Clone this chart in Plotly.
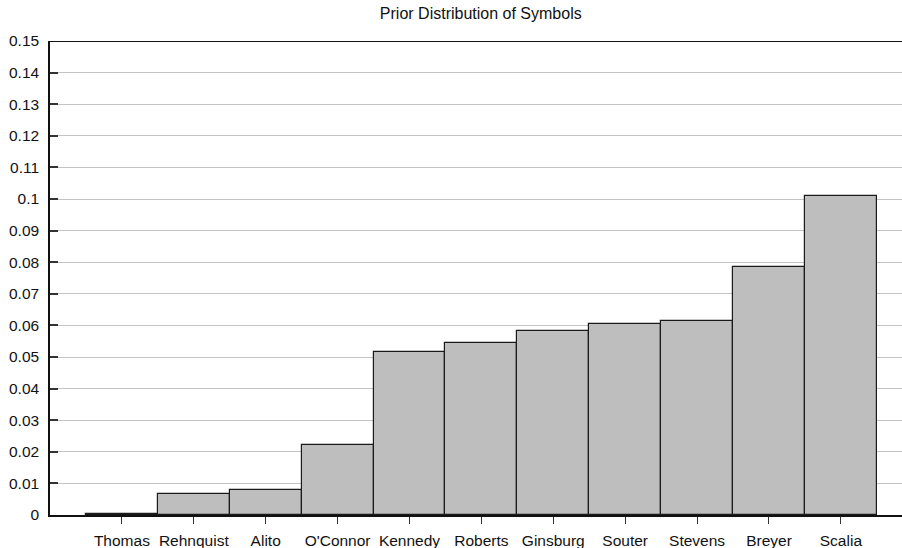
import plotly.graph_objects as go

justices = ["Thomas", "Rehnquist", "Alito", "O'Connor", "Kennedy", "Roberts",
            "Ginsburg", "Souter", "Stevens", "Breyer", "Scalia"]
prior = [0.0003, 0.0066, 0.0079, 0.0222, 0.0515, 0.0544,
         0.0583, 0.0605, 0.0613, 0.0786, 0.1011]
y_ticks = [round(i * 0.01, 2) for i in range(16)]
y_tick_text = ["0", "0.01", "0.02", "0.03", "0.04", "0.05", "0.06", "0.07",
               "0.08", "0.09", "0.1", "0.11", "0.12", "0.13", "0.14", "0.15"]

FONT = "Liberation Sans, Arial, sans-serif"

fig = go.Figure(go.Bar(
    x=list(range(len(justices))),
    y=prior,
    width=1.0,
    marker=dict(color="#bebebe", line=dict(color="#1a1a1a", width=1.2)),
    hoverinfo="x+y",
))

fig.update_layout(
    width=902, height=548,
    margin=dict(l=50, r=0, t=41, b=33, autoexpand=False),
    paper_bgcolor="white", plot_bgcolor="white",
    showlegend=False,
    title=dict(text="Prior Distribution of Symbols", x=0.533, xanchor="center",
               y=1 - 13 / 548, yanchor="middle", yref="container",
               font=dict(family=FONT, size=16, color="#111111")),
    font=dict(family=FONT, size=15.5, color="#111111"),
    bargap=0,
)

fig.update_xaxes(
    range=[-1.0, 10.85],
    tickmode="array", tickvals=list(range(len(justices))), ticktext=justices,
    ticks="outside", ticklen=7, tickcolor="#333333", tickwidth=1,
    showgrid=False, zeroline=False, automargin=False,
    showline=True, linecolor="#111111", linewidth=1.5,
    tickfont=dict(family=FONT, size=15.5, color="#111111"),
    ticklabelstandoff=4,
    fixedrange=True,
)
fig.update_yaxes(
    range=[0, 0.15],
    tickmode="array", tickvals=y_ticks, ticktext=y_tick_text,
    ticks="inside", ticklen=8, tickcolor="#333333", tickwidth=1.5,
    showgrid=True, gridcolor="#c4c4c4", gridwidth=1.2,
    zeroline=False, automargin=False,
    showline=True, linecolor="#111111", linewidth=1.5,
    tickfont=dict(family=FONT, size=15.5, color="#111111"),
    ticklabelstandoff=6,
    fixedrange=True,
)

fig.add_shape(type="line", xref="paper", yref="y", x0=0, x1=1, y0=0.15, y1=0.15,
              line=dict(color="#111111", width=1.8), layer="above")

fig.write_html(
    "out.html",
    config={"displayModeBar": False},
    post_script="document.body.style.margin='0';document.body.style.padding='0';"
                "document.body.style.overflow='hidden';",
)
